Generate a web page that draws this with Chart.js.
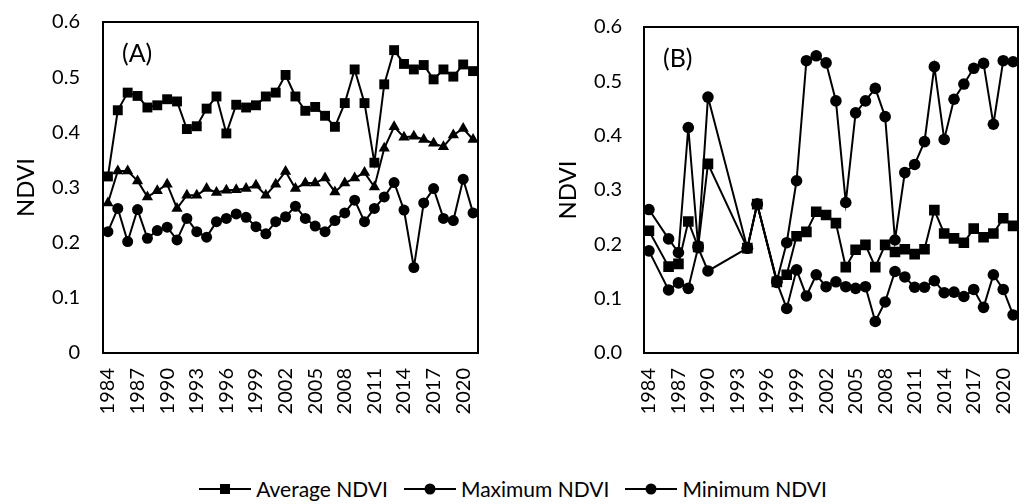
<!DOCTYPE html>
<html>
<head>
<meta charset="utf-8">
<script src="https://cdn.jsdelivr.net/npm/chart.js@4.4.1/dist/chart.umd.min.js"></script>
<style>
  body { margin: 0; background: #fff; width: 1026px; height: 504px; overflow: hidden; position: relative; font-family: Lato, "Open Sans", sans-serif; }
  .panel { position: absolute; top: 0; width: 513px; height: 430px; }
  #legend { position: absolute; top: 476px; left: 0; width: 1026px; display: flex; justify-content: center; align-items: center; font-size: 21px; color: #000; }
  #legend span.item { display: inline-flex; align-items: center; margin: 0 8px; }
  #legend svg { margin-right: 5px; }
</style>
</head>
<body>
<div class="panel" style="left:0"><canvas id="chartA" width="513" height="430"></canvas></div>
<div class="panel" style="left:513px"><canvas id="chartB" width="513" height="430"></canvas></div>
<div id="legend"></div>

<script>
const years = [1984, 1985, 1986, 1987, 1988, 1989, 1990, 1991, 1992, 1993,
  1994, 1995, 1996, 1997, 1998, 1999, 2000, 2001, 2002, 2003,
  2004, 2005, 2006, 2007, 2008, 2009, 2010, 2011, 2012, 2013,
  2014, 2015, 2016, 2017, 2018, 2019, 2020, 2021];

// panel (A)
const squaresA = [0.320, 0.440, 0.472, 0.466, 0.445, 0.449, 0.460, 0.456, 0.406, 0.411,
  0.443, 0.465, 0.398, 0.450, 0.445, 0.449, 0.465, 0.472, 0.504, 0.465,
  0.439, 0.446, 0.430, 0.410, 0.453, 0.514, 0.453, 0.345, 0.487, 0.549,
  0.524, 0.514, 0.522, 0.496, 0.514, 0.501, 0.523, 0.511];
const trianglesA = [0.272, 0.330, 0.330, 0.312, 0.283, 0.294, 0.306, 0.262, 0.286, 0.286,
  0.298, 0.291, 0.295, 0.296, 0.298, 0.304, 0.286, 0.306, 0.329, 0.298,
  0.308, 0.308, 0.317, 0.292, 0.308, 0.317, 0.327, 0.301, 0.371, 0.410,
  0.391, 0.393, 0.387, 0.380, 0.374, 0.395, 0.407, 0.387];
const circlesA = [0.220, 0.262, 0.202, 0.260, 0.208, 0.222, 0.228, 0.205, 0.244, 0.220,
  0.210, 0.238, 0.244, 0.252, 0.246, 0.229, 0.216, 0.238, 0.247, 0.266,
  0.244, 0.230, 0.220, 0.240, 0.254, 0.277, 0.238, 0.262, 0.283, 0.309,
  0.259, 0.155, 0.272, 0.298, 0.244, 0.240, 0.315, 0.254];

// panel (B), null = no image that year
const avgB = [0.225, null, 0.159, 0.164, 0.242, 0.195, 0.348, null, null, null,
  0.193, 0.274, null, 0.131, 0.144, 0.215, 0.223, 0.260, 0.254, 0.239,
  0.158, 0.190, 0.199, 0.158, 0.199, 0.186, 0.191, 0.182, 0.191, 0.263,
  0.220, 0.211, 0.203, 0.229, 0.213, 0.220, 0.248, 0.234];
const maxB = [0.264, null, 0.210, 0.185, 0.415, 0.197, 0.471, null, null, null,
  0.193, 0.274, null, 0.133, 0.203, 0.317, 0.538, 0.547, 0.534, 0.464,
  0.277, 0.442, 0.464, 0.487, 0.435, 0.208, 0.332, 0.347, 0.389, 0.527,
  0.393, 0.467, 0.495, 0.524, 0.533, 0.421, 0.538, 0.536];
const minB = [0.188, null, 0.116, 0.129, 0.119, 0.194, 0.151, null, null, null,
  0.193, 0.274, null, 0.130, 0.082, 0.153, 0.105, 0.144, 0.122, 0.131,
  0.122, 0.119, 0.122, 0.058, 0.094, 0.150, 0.140, 0.121, 0.121, 0.133,
  0.111, 0.112, 0.104, 0.117, 0.084, 0.144, 0.117, 0.070];

const seriesNames = ["Average NDVI", "Maximum NDVI", "Minimum NDVI"];

const FAMILY = "Lato, 'Open Sans', sans-serif";
const FONT = { family: FAMILY, size: 20 };
Chart.defaults.color = "#000";

// box around the plot area + panel letter
const framePlugin = {
    id: "frame",
    afterDraw(chart, args, opts) {
        const { ctx, chartArea: a } = chart;
        ctx.save();
        ctx.strokeStyle = "#000";
        ctx.lineWidth = 2;
        ctx.strokeRect(a.left, a.top, a.right - a.left, a.bottom - a.top);
        ctx.font = `25px ${FAMILY}`;
        ctx.fillStyle = "#000";
        ctx.textBaseline = "middle";
        ctx.fillText(opts.letter, a.left + 19, a.top + 32);
        ctx.restore();
    }
};

function line(data, style, radius) {
    return {
        data, borderColor: "#000", backgroundColor: "#000", borderWidth: 2,
        pointStyle: style, pointRadius: radius, pointHoverRadius: radius,
        pointBorderWidth: 0, tension: 0, spanGaps: true, fill: false
    };
}

function makePanel(id, letter, datasets, opt) {
    return new Chart(document.getElementById(id), {
        type: "line",
        data: { labels: years, datasets },
        options: {
            responsive: false, animation: false,
            layout: { padding: { top: opt.top, right: opt.right, left: 0, bottom: 0 } },
            plugins: { legend: { display: false }, tooltip: { enabled: false }, frame: { letter } },
            scales: {
                x: {
                    type: "category", offset: true,
                    grid: { display: false, drawTicks: false },
                    border: { display: false },
                    ticks: {
                        autoSkip: false, minRotation: 90, maxRotation: 90, padding: 15, font: FONT,
                        callback: (v, i) => (i % 3 === 0 ? String(years[i]) : "")
                    },
                    afterFit: (s) => { s.height = 77; s.paddingLeft = 0; s.paddingRight = 0; }
                },
                y: {
                    min: 0, max: 0.6,
                    grid: { display: false, drawTicks: false },
                    border: { display: false },
                    ticks: { stepSize: 0.1, padding: opt.tickPad, font: FONT, callback: opt.fmt },
                    title: { display: true, text: "NDVI", font: { family: FAMILY, size: 24 }, padding: { top: opt.titlePad, bottom: 0 } },
                    afterFit: (s) => { s.width = opt.yWidth; s.paddingTop = 0; s.paddingBottom = 0; }
                }
            }
        },
        plugins: [framePlugin]
    });
}

makePanel("chartA", "(A)", [
    line(squaresA, "rect", 7),
    line(trianglesA, "triangle", 6.5),
    line(circlesA, "circle", 5.5)
], { top: 22, right: 35, yWidth: 103, tickPad: 23, titlePad: 12, fmt: (v) => String(Math.round(v * 10) / 10) });

makePanel("chartB", "(B)", [
    Object.assign(line(avgB, "rect", 7.5), { label: seriesNames[0] }),
    Object.assign(line(maxB, "circle", 5.8), { label: seriesNames[1] }),
    Object.assign(line(minB, "circle", 5.8), { label: seriesNames[2] })
], { top: 27, right: 8, yWidth: 131, tickPad: 22, titlePad: 41, fmt: (v) => v.toFixed(1) });

// legend under both panels
const marks = [
    '<rect x="21" y="2" width="10" height="10" fill="#000"/>',
    '<circle cx="26" cy="7" r="5.5" fill="#000"/>',
    '<circle cx="26" cy="7" r="5.5" fill="#000"/>'
];
document.getElementById("legend").innerHTML = seriesNames.map((name, i) =>
    `<span class="item"><svg width="52" height="14"><line x1="0" y1="7" x2="52" y2="7" stroke="#000" stroke-width="2"/>${marks[i]}</svg>${name}</span>`
).join("");
</script>
</body>
</html>
